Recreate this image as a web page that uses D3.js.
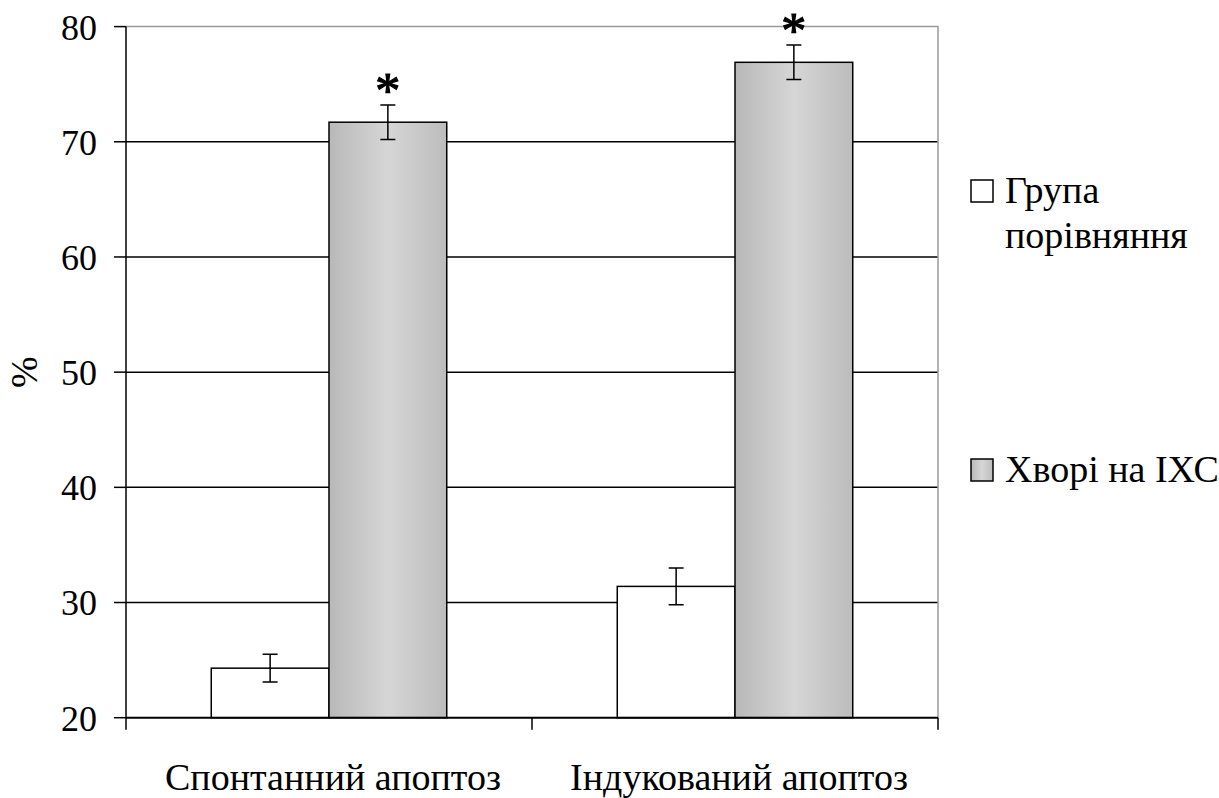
<!DOCTYPE html>
<html>
<head>
<meta charset="utf-8">
<script src="https://cdn.jsdelivr.net/npm/d3@7"></script>
</head>
<body style="margin:0">
<svg id="s" width="1219" height="798"></svg>
<script>
// Donnees du graphique
const categories = ["Спонтанний апоптоз", "Індукований апоптоз"];
const comparison = [24.3, 31.4];
const comparisonErr = [1.2, 1.6];
const patients = [71.7, 76.9];
const patientsErr = [1.5, 1.5];
const significant = [true, true];
const yTicks = [20, 30, 40, 50, 60, 70, 80];
const legendLines = [["Група", "порівняння"], ["Хворі на ІХС"]];

const svg = d3.select("#s");
const FONT = "'Liberation Serif'";
const margin = { top: 26.6, right: 281, bottom: 80.3, left: 126 };
const W = 1219, H = 798;

const x = d3.scaleBand()
  .domain(categories)
  .range([margin.left, W - margin.right]);

const y = d3.scaleLinear()
  .domain([20, 80])
  .range([H - margin.bottom, margin.top]);

const barW = x.bandwidth() * 0.29;
const off = (x.bandwidth() - 2 * barW) / 2;

// textes d'abord, comme dans la page de test
svg.selectAll(".cat").data(categories).join("text")
  .attr("class", "cat")
  .attr("x", d => x(d) + x.bandwidth() / 2 + 4)
  .attr("y", 790)
  .attr("font-size", 38)
  .style("font-family", FONT)
  .attr("text-anchor", "middle")
  .text(d => d);

const legY = [180, 459];
const legRows = legendLines.flatMap((lines, k) => lines.map((l, i) => ({ l, y: legY[k] + 23 + i * 45 })));
svg.selectAll(".leg").data(legRows).join("text")
  .attr("class", "leg")
  .attr("x", 1005)
  .attr("y", d => d.y)
  .attr("font-size", 38)
  .style("font-family", FONT)
  .text(d => d.l);

svg.append("text")
  .attr("transform", `translate(37,${(y(20) + y(80)) / 2}) rotate(-90)`)
  .attr("text-anchor", "middle")
  .attr("font-size", 38)
  .style("font-family", FONT)
  .text("%");

svg.selectAll(".tl").data(yTicks).join("text")
  .attr("class", "tl")
  .attr("x", margin.left - 29)
  .attr("y", d => y(d))
  .attr("dy", "0.36em")
  .attr("text-anchor", "end")
  .attr("font-size", 36)
  .style("font-family", FONT)
  .text(d => d);

// degrade des barres grises
const defs = svg.append("defs");
const grad = defs.append("linearGradient").attr("id", "grey")
  .attr("x1", "0%").attr("x2", "100%").attr("y1", "0%").attr("y2", "0%");
grad.append("stop").attr("offset", "0%").attr("stop-color", "#b8b8b8");
grad.append("stop").attr("offset", "50%").attr("stop-color", "#d6d6d6");
grad.append("stop").attr("offset", "100%").attr("stop-color", "#bcbcbc");

// grille horizontale
svg.append("g")
  .selectAll("line")
  .data(yTicks.filter(d => d > 20 && d < 80))
  .join("line")
  .attr("x1", margin.left).attr("x2", W - margin.right)
  .attr("y1", d => y(d)).attr("y2", d => y(d))
  .attr("stroke", "#000").attr("stroke-width", 1.5);

// bord gris haut et droit
svg.append("path")
  .attr("d", `M${margin.left},${y(80)}H${W - margin.right}V${y(20)}`)
  .attr("fill", "none").attr("stroke", "#9a9a9a").attr("stroke-width", 1.5);

// axe Y : ligne et graduations
svg.append("line")
  .attr("x1", margin.left).attr("x2", margin.left)
  .attr("y1", y(80)).attr("y2", y(20))
  .attr("stroke", "#000").attr("stroke-width", 1.5);
svg.append("g").selectAll("line").data(yTicks).join("line")
  .attr("x1", margin.left - 12).attr("x2", margin.left)
  .attr("y1", d => y(d)).attr("y2", d => y(d))
  .attr("stroke", "#000").attr("stroke-width", 1.5);

const data = categories.map((c, i) => ({
  c, a: comparison[i], ae: comparisonErr[i], b: patients[i], be: patientsErr[i], s: significant[i]
}));

const g = svg.append("g");
// barres blanches
g.selectAll(".w").data(data).join("rect")
  .attr("class", "w")
  .attr("x", d => x(d.c) + off)
  .attr("y", d => y(d.a))
  .attr("width", barW)
  .attr("height", d => y(20) - y(d.a))
  .attr("fill", "#fff").attr("stroke", "#000").attr("stroke-width", 1.5);
// barres grises
g.selectAll(".g").data(data).join("rect")
  .attr("class", "g")
  .attr("x", d => x(d.c) + off + barW)
  .attr("y", d => y(d.b))
  .attr("width", barW)
  .attr("height", d => y(20) - y(d.b))
  .attr("fill", "url(#grey)").attr("stroke", "#000").attr("stroke-width", 1.5);

// barres d'erreur
function errBar(cx, v, e) {
  const p = d3.path();
  p.moveTo(cx, y(v + e)); p.lineTo(cx, y(v - e));
  p.moveTo(cx - 7.5, y(v + e)); p.lineTo(cx + 7.5, y(v + e));
  p.moveTo(cx - 7.5, y(v - e)); p.lineTo(cx + 7.5, y(v - e));
  return p.toString();
}
g.selectAll(".ea").data(data).join("path")
  .attr("class", "ea")
  .attr("d", d => errBar(x(d.c) + off + barW / 2, d.a, d.ae))
  .attr("stroke", "#000").attr("stroke-width", 1.5).attr("fill", "none");
g.selectAll(".eb").data(data).join("path")
  .attr("class", "eb")
  .attr("d", d => errBar(x(d.c) + off + barW * 1.5, d.b, d.be))
  .attr("stroke", "#000").attr("stroke-width", 1.5).attr("fill", "none");

// axe X
svg.append("line")
  .attr("x1", margin.left).attr("x2", W - margin.right)
  .attr("y1", y(20)).attr("y2", y(20))
  .attr("stroke", "#000").attr("stroke-width", 2);
const xEdges = [margin.left, ...categories.map(c => x(c) + x.bandwidth())];
svg.append("g").selectAll("line").data(xEdges).join("line")
  .attr("x1", d => d).attr("x2", d => d)
  .attr("y1", y(20)).attr("y2", y(20) + 12)
  .attr("stroke", "#000").attr("stroke-width", 1.5);

// legende : carres
svg.selectAll(".lbox").data(legY).join("rect")
  .attr("class", "lbox")
  .attr("x", 971).attr("y", d => d)
  .attr("width", 22).attr("height", 22)
  .attr("fill", (d, i) => i === 0 ? "#fff" : "url(#grey)")
  .attr("stroke", "#000").attr("stroke-width", 1.5);

// asterisques
svg.selectAll(".star").data(data.filter(d => d.s)).join("text")
  .attr("class", "star")
  .attr("x", d => x(d.c) + off + barW * 1.5)
  .attr("y", d => y(d.b + d.be) + 2)
  .attr("text-anchor", "middle")
  .attr("font-size", 50)
  .style("font-family", FONT)
  .style("stroke", "#000").style("stroke-width", 1.2)
  .text("*");
</script>
</body>
</html>
